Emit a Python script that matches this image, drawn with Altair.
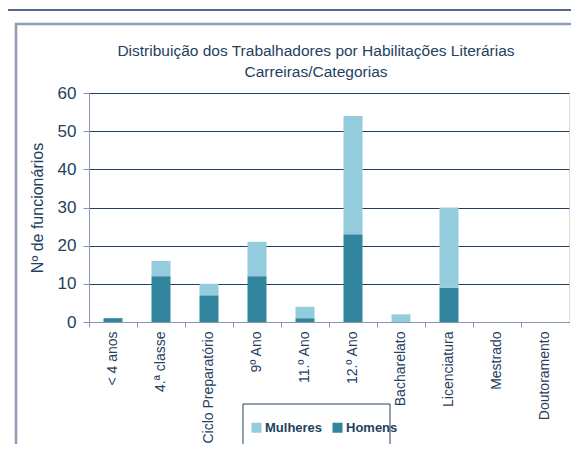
import altair as alt
import pandas as pd

categories = ["< 4 anos", "4.ª classe", "Ciclo Preparatório", "9º Ano", "11.º  Ano",
              "12.º Ano", "Bacharelato", "Licenciatura", "Mestrado", "Doutoramento"]
homens = [1, 12, 7, 12, 1, 23, 0, 9, 0, 0]
mulheres = [0, 4, 3, 9, 3, 31, 2, 21, 0, 0]
series = ["Mulheres", "Homens"]
colors = ["#93CDDD", "#31859C"]
y_ticks = [0, 10, 20, 30, 40, 50, 60]

rows = []
for c, h, m in zip(categories, homens, mulheres):
    rows.append({"cat": c, "serie": "Homens", "val": h, "ord": 0})
    rows.append({"cat": c, "serie": "Mulheres", "val": m, "ord": 1})
df = pd.DataFrame(rows)

NAVY = "#243F60"
AXIS = "#8496B0"
FONT = "Liberation Sans"

bars = alt.Chart(df).mark_bar(size=19).encode(
    x=alt.X("cat:N", sort=categories,
            scale=alt.Scale(paddingInner=0, paddingOuter=0),
            axis=alt.Axis(title=None, labelAngle=-90, bandPosition=0,
                          labelFont=FONT, labelFontSize=14,
                          labelColor=NAVY, labelPadding=4, tickSize=5,
                          tickColor=AXIS, domainColor=AXIS, labelBaseline="middle",
                          labelAlign="right", grid=False)),
    y=alt.Y("val:Q", stack="zero",
            scale=alt.Scale(domain=[0, 60], nice=False),
            axis=alt.Axis(title="Nº de funcionários", values=y_ticks,
                          labelFont=FONT, labelFontSize=17, labelColor=NAVY,
                          labelPadding=7, tickSize=6, tickColor=AXIS,
                          domainColor=AXIS, gridColor=NAVY, gridWidth=1,
                          titleFont=FONT, titleFontSize=16, titleColor=NAVY,
                          titleFontWeight="normal", titleX=-47, titleBaseline="alphabetic")),
    color=alt.Color("serie:N", scale=alt.Scale(domain=series, range=colors),
                    legend=alt.Legend(title=None, orient="none", direction="horizontal",
                                      legendX=161, legendY=328, padding=0,
                                      symbolType="square", symbolSize=100,
                                      symbolStrokeWidth=0, labelFont=FONT,
                                      labelFontSize=13, labelFontWeight="bold",
                                      labelColor=NAVY, labelOffset=2, columnPadding=8)),
    order=alt.Order("ord:Q"),
)

one = pd.DataFrame({"k": [0]})
outer = alt.Chart(one).mark_rect(fill=None, stroke="#1F3864", strokeWidth=1.5).encode(
    x=alt.value(-84), x2=alt.value(495), y=alt.value(-83), y2=alt.value(400))
inner = alt.Chart(one).mark_rect(fill=None, stroke="#8D9DB5", strokeWidth=2.5).encode(
    x=alt.value(-73), x2=alt.value(495), y=alt.value(-69), y2=alt.value(400))
legbox = alt.Chart(one).mark_rect(fill=None, stroke=NAVY, strokeWidth=1).encode(
    x=alt.value(154), x2=alt.value(301), y=alt.value(311), y2=alt.value(357))

chart = alt.layer(outer, inner, bars, legbox).properties(
    width=480, height=229,
    padding={"left": 81, "top": 85, "right": 2, "bottom": 122},
    autosize=alt.AutoSizeParams(type="none"),
    title=alt.TitleParams(
        text=["Distribuição dos Trabalhadores por Habilitações Literárias",
              "Carreiras/Categorias"],
        font=FONT, fontSize=15.5, fontWeight="normal", color=NAVY,
        anchor="middle", dx=-13, dy=89, offset=18, lineHeight=21),
).configure_view(stroke=None).configure(background="white").configure_axisX(
    labelFontSize=14, labelFont=FONT)

chart.save("out.html", embed_options={"renderer": "svg", "actions": False})
